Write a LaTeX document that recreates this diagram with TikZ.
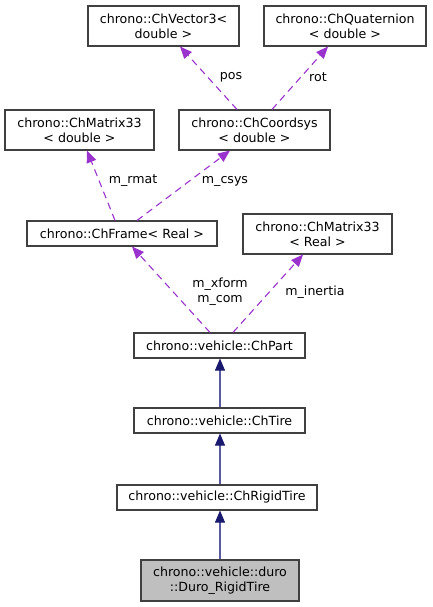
\documentclass[tikz,border=0pt]{standalone}
\usepackage{fontspec}
\setmainfont{DejaVu Sans}
\usetikzlibrary{arrows.meta,calc}
\definecolor{boxline}{HTML}{404040}
\definecolor{usecol}{HTML}{9A32CD}
\definecolor{inhcol}{HTML}{191970}
\definecolor{inhline}{HTML}{5A5AA0}
\definecolor{hlfill}{HTML}{BFBFBF}
\begin{document}
\begin{tikzpicture}[x=1pt,y=-1pt,
  font=\fontsize{12.6}{15}\selectfont,
  cls/.style={draw=boxline,line width=1.1pt,fill=white,inner sep=0pt,align=center},
  usage/.style={draw=usecol,line width=1.1pt,dash pattern=on 7pt off 5pt,
    -{Triangle[length=12pt,width=10pt,fill=usecol,color=usecol,line width=0.9pt]}},
  inherit/.style={draw=inhline,line width=1.1pt,
    -{Triangle[length=12pt,width=10pt,fill=inhcol,color=inhcol,line width=0.9pt]}},
  lbl/.style={inner sep=0pt,align=center}]
\useasboundingbox (0,0) rectangle (432,607);
% nodes
\node[cls,minimum width=151pt,minimum height=40pt] (vec) at (163.5,26) {chrono::ChVector3<\\double >};
\node[cls,minimum width=162pt,minimum height=40pt] (quat) at (345,26) {chrono::ChQuaternion\\< double >};
\node[cls,minimum width=149pt,minimum height=40pt] (matd) at (79.5,130) {chrono::ChMatrix33\\< double >};
\node[cls,minimum width=151pt,minimum height=40pt] (csys) at (254.5,130) {chrono::ChCoordsys\\< double >};
\node[cls,minimum width=190pt,minimum height=25pt] (frame) at (122,233.5) {chrono::ChFrame< Real >};
\node[cls,minimum width=149pt,minimum height=40pt] (matr) at (317.5,234) {chrono::ChMatrix33\\< Real >};
\node[cls,minimum width=171pt,minimum height=25pt] (part) at (219.5,345.5) {chrono::vehicle::ChPart};
\node[cls,minimum width=171pt,minimum height=25pt] (tire) at (219.5,420.5) {chrono::vehicle::ChTire};
\node[cls,minimum width=200pt,minimum height=25pt] (rigid) at (217,497.5) {chrono::vehicle::ChRigidTire};
\node[cls,fill=hlfill,minimum width=158pt,minimum height=41pt] (duro) at (220,580.5) {chrono::vehicle::duro\\::Duro\_RigidTire};
% usage edges
\draw[usage] ([xshift=-17.5pt]csys.north) -- ([xshift=16.5pt]vec.south);
\draw[usage] ([xshift=17.5pt]csys.north) -- ([xshift=-17pt]quat.south);
\draw[usage] ([xshift=-7pt]frame.north) -- ([xshift=7.5pt]matd.south);
\draw[usage] ([xshift=15pt]frame.north) -- ([xshift=-24.5pt]csys.south);
\draw[usage] ([xshift=-9.5pt]part.north) -- ([xshift=10pt]frame.south);
\draw[usage] ([xshift=13.5pt]part.north) -- ([xshift=-14.5pt]matr.south);
% labels
\node[lbl] (lpos) at (231,77) {pos};
\node[lbl] (lrot) at (318,77) {rot};
\node[lbl] (lrmat) at (133,181) {m\_rmat};
\node[lbl] (lcsys) at (225,181) {m\_csys};
\node[lbl] (lxform) at (220,291.5) {m\_xform\\m\_com};
\node[lbl] (linert) at (315,292) {m\_inertia};
% inheritance
\draw[inherit] ([xshift=0.5pt]tire.north) -- ([xshift=0.5pt]part.south);
\draw[inherit] ([xshift=3pt]rigid.north) -- ([xshift=0.5pt]tire.south);
\draw[inherit] (duro.north) -- ([xshift=3pt]rigid.south);
\end{tikzpicture}
\end{document}
